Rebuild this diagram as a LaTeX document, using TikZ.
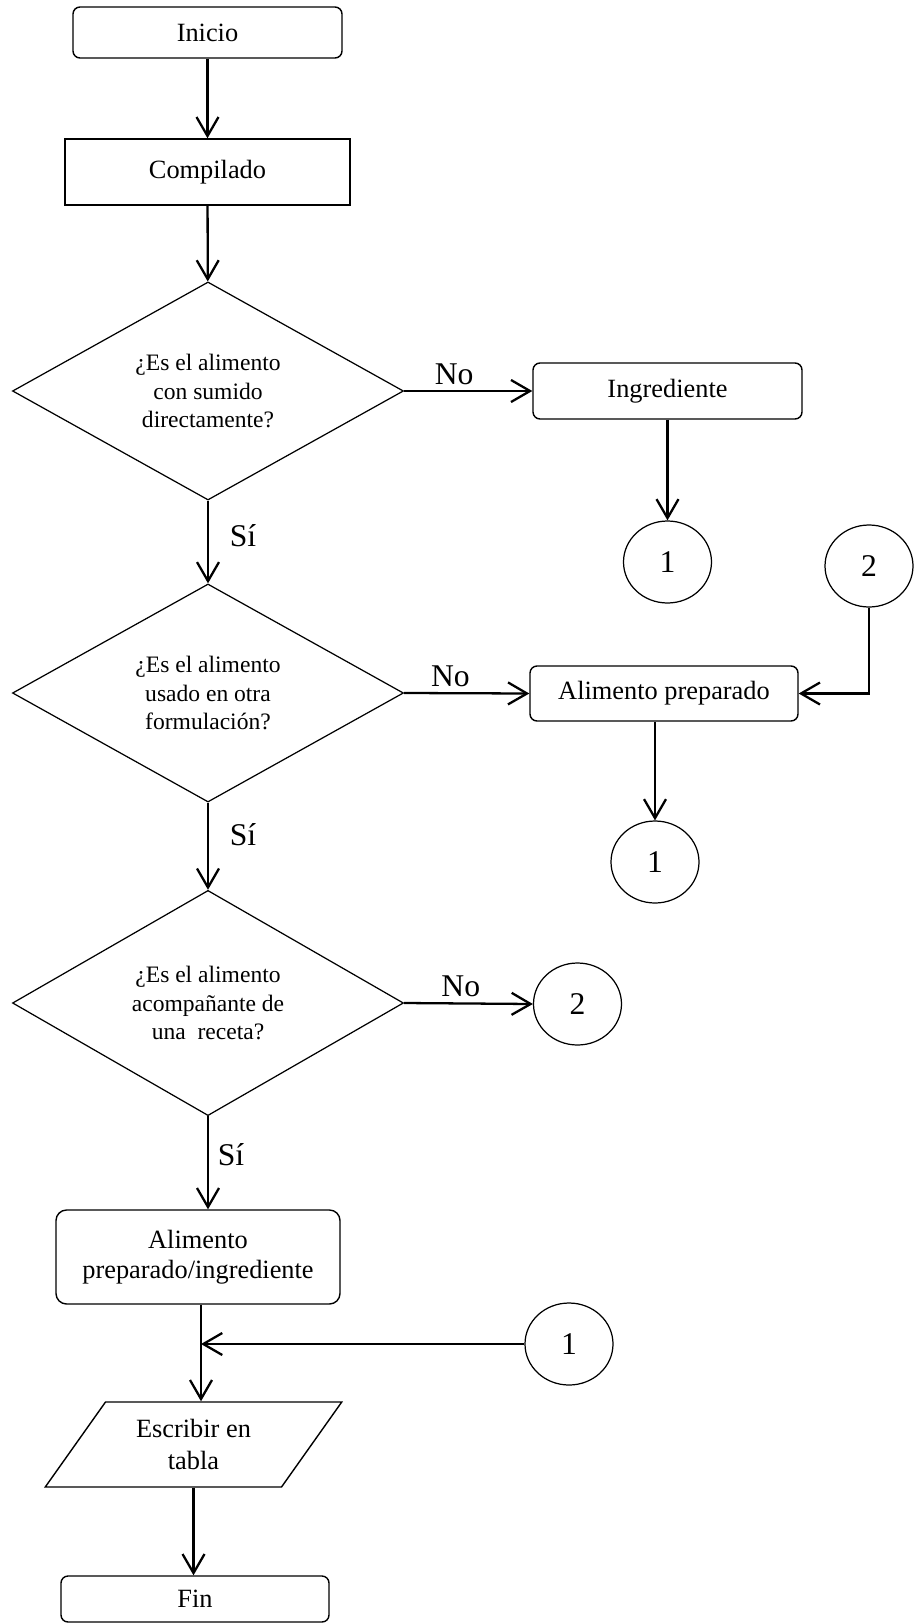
\documentclass[tikz,border=0pt]{standalone}
\usepackage{fontspec}
\setmainfont{Liberation Serif}
\usetikzlibrary{arrows.meta,shapes.geometric,positioning,calc}
\tikzset{%
terminal/.style={draw,rounded corners=4pt,line width=0.8pt,minimum width=5.38cm,font=\fontsize{15}{17}\selectfont},
process/.style={draw,line width=0.8pt,minimum width=5.7cm,minimum height=1.32cm,font=\fontsize{15}{17}\selectfont},
decision/.style={draw,diamond,line width=0.7pt,minimum width=7.82cm,minimum height=4.24cm,inner sep=0pt,align=center,font=\fontsize{13.4}{16}\selectfont},
connector/.style={draw,ellipse,line width=0.7pt,minimum width=1.76cm,minimum height=1.64cm,inner sep=0pt,font=\fontsize{18}{20}\selectfont},
inout/.style={draw,trapezium,trapezium left angle=55,trapezium right angle=125,trapezium stretches=true,line width=0.8pt,minimum width=5.94cm,minimum height=1.7cm,align=center,font=\fontsize{15}{18}\selectfont},
flow/.style={draw,line width=1.3pt,-{Straight Barb[length=3.8mm,width=4.4mm]}},
answer/.style={font=\fontsize{18}{20}\selectfont,inner sep=1pt}
}

\begin{document}
\begin{tikzpicture}
\useasboundingbox (0,0) rectangle (18.28,-32.48);

\node[terminal,minimum height=1.02cm] (inicio) at (4.15,-0.65)   {Inicio};
\node[process]                        (compil) at (4.15,-3.44)   {Compilado};
\node[decision]                       (q1)     at (4.16,-7.82)   {¿Es el alimento\\con sumido\\directamente?};
\node[terminal,minimum height=1.12cm] (ingr)   at (13.35,-7.82)  {Ingrediente};
\node[connector]                      (c1a)    at (13.35,-11.24) {1};
\node[connector]                      (c2a)    at (17.38,-11.32) {2};
\node[decision]                       (q2)     at (4.16,-13.86)  {¿Es el alimento\\usado en otra\\formulación?};
\node[terminal,minimum width=5.36cm,
      minimum height=1.1cm]           (prep)   at (13.28,-13.87) {Alimento preparado};
\node[connector]                      (c1b)    at (13.10,-17.24) {1};
\node[decision]                       (q3)     at (4.16,-20.06)  {¿Es el alimento\\acompañante de\\una\ \ receta?};
\node[connector]                      (c2b)    at (11.55,-20.08) {2};
\node[terminal,minimum width=5.68cm,
      minimum height=1.88cm,align=center,
      rounded corners=6pt]            (res)    at (3.96,-25.14)  {Alimento\\preparado/ingrediente};
\node[connector]                      (c1c)    at (11.38,-26.88) {1};
\node[inout]                          (tabla)  at (3.87,-28.89)  {Escribir en\\tabla};
\node[terminal,minimum width=5.36cm,
      minimum height=0.92cm]          (fin)    at (3.90,-31.98)  {Fin};
\coordinate (join) at (4.02,-26.88);

\foreach \a/\b in {inicio/compil,
                   compil/q1,
                   ingr/c1a}
{
  \draw[flow] (\a) -- (\b);
}

\draw[flow] (q1.east) -- node[answer,above=2pt,pos=0.39] (no1) {No} (ingr.west);
\draw[flow] (q2.east) -- node[answer,above=2pt,pos=0.37] (no2) {No} (prep.west);
\draw[flow] (q3.east) -- node[answer,above=2pt,pos=0.44] (no3) {No} (c2b.west);

\draw[flow] (q1.south) -- node[answer,right=0.38cm,pos=0.42] (si1) {Sí} (q2.north);
\draw[flow] (q2.south) -- node[answer,right=0.38cm,pos=0.37] (si2) {Sí} (q3.north);
\draw[flow] (q3.south) -- node[answer,right=0.14cm,pos=0.41] (si3) {Sí} (q3.south |- res.north);

\draw[flow] (c2a.south) |- (prep.east);
\draw[flow] (c1b |- prep.south) -- (c1b.north);

\draw[flow] (c1c.west) -- (join);
\draw[flow] (join |- res.south) -- (join |- tabla.north);
\draw[flow] (tabla.south) -- (tabla.south |- fin.north);
\end{tikzpicture}
\end{document}
